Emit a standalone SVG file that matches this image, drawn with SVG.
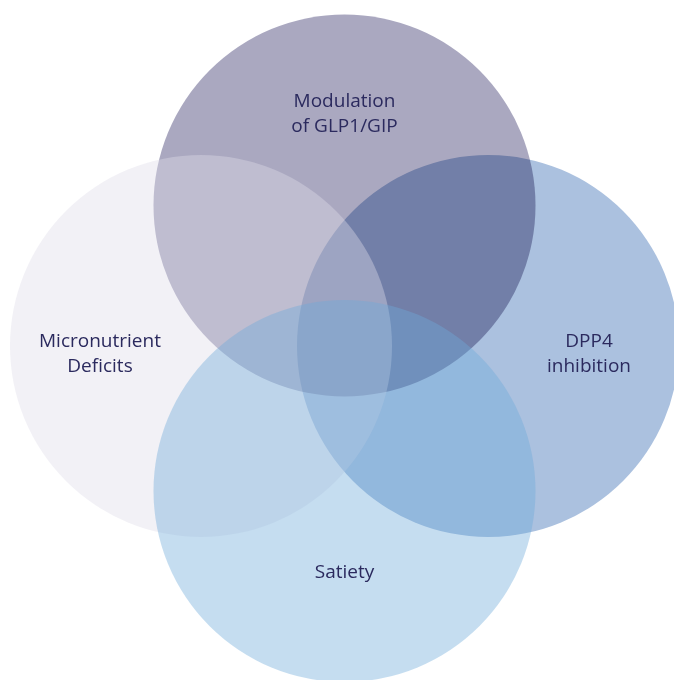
<svg xmlns="http://www.w3.org/2000/svg" width="674" height="680" viewBox="0 0 674 680">
<style>
  text { font-family: "Open Sans", "Liberation Sans", sans-serif; font-size: 19px; font-weight: 500; fill: #2b2a5e; text-anchor: middle; }
  .top { fill: #aaa8c0; }
  .right { fill: #abc1df; mix-blend-mode: multiply; }
  .left { fill: #dedce8; fill-opacity: 0.4; }
  .bottom { fill: #6eaad9; fill-opacity: 0.4; }
</style>
<rect width="674" height="680" fill="#ffffff"/>
<g id="node-glp1">
  <circle class="top" cx="344.5" cy="205.5" r="191"/>
</g>
<g id="node-dpp4">
  <circle class="right" cx="488" cy="346" r="191"/>
</g>
<g id="node-micronutrient">
  <circle class="left" cx="201" cy="346" r="191"/>
</g>
<g id="node-satiety">
  <circle class="bottom" cx="344.5" cy="491" r="191"/>
</g>
<g id="connectors"></g>
<g id="labels">
  <text x="344.5" y="107">Modulation</text>
  <text x="344.5" y="132">of GLP1/GIP</text>
  <text x="100" y="347">Micronutrient</text>
  <text x="100" y="372">Deficits</text>
  <text x="589" y="347">DPP4</text>
  <text x="589" y="372">inhibition</text>
  <text x="344.5" y="578">Satiety</text>
</g>
</svg>
